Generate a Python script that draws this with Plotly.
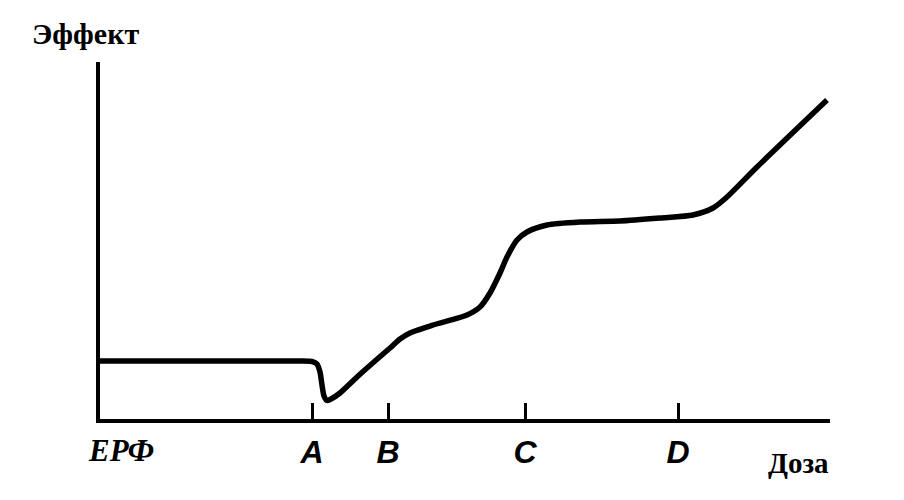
import plotly.graph_objects as go

# Dose (arbitrary units) and effect (arbitrary units)
dose = [0.2, 10.2, 20.2, 21.4, 21.9, 22.2, 22.4, 22.6, 22.9, 23.3, 24.2, 25.9, 27.7,
        29.2, 30.2, 31.2, 33.5, 36.9, 38.2, 39.2, 40.2, 40.9, 41.9, 42.9, 44.9, 48.2,
        52.2, 56.2, 59.5, 61.5, 62.9, 65.9, 72.9]
effect = [6.0, 6.0, 6.0, 5.95, 5.7, 4.9, 3.6, 2.5, 2.05, 2.2, 2.8, 4.4, 6.0,
          7.3, 8.2, 8.8, 9.6, 10.6, 11.4, 12.8, 14.8, 16.4, 18.1, 18.9, 19.6, 19.9,
          20.0, 20.3, 20.6, 21.3, 22.4, 25.4, 32.1]

tick_vals = [21.4, 29.0, 42.7, 58.0]
tick_labels = ["A", "B", "C", "D"]

fig = go.Figure()
fig.add_trace(go.Scatter(
    x=dose, y=effect, mode="lines",
    line=dict(color="black", width=5.5, shape="spline", smoothing=0.7),
    hoverinfo="skip", showlegend=False,
))

fig.update_layout(
    width=904, height=500,
    margin=dict(l=100, r=74, t=62, b=81),
    plot_bgcolor="white", paper_bgcolor="white",
    xaxis=dict(
        range=[0.2, 73.2], showgrid=False, zeroline=False,
        showline=True, linecolor="black", linewidth=4,
        ticks="inside", ticklen=16, tickwidth=3, tickcolor="black",
        tickvals=tick_vals,
        ticktext=["<b><i>%s</i></b>" % t for t in tick_labels],
        tickfont=dict(family="Liberation Sans", size=32, color="black"),
        ticklabelstandoff=2,
    ),
    yaxis=dict(
        range=[0.2, 35.9], showgrid=False, zeroline=False,
        showline=True, linecolor="black", linewidth=4,
        ticks="", showticklabels=False,
    ),
    annotations=[
        dict(x=-0.0205, y=1.081, xref="paper", yref="paper", text="<b>Эффект</b>",
             xanchor="center", yanchor="middle",
             showarrow=False, font=dict(family="Liberation Serif", size=30, color="black")),
        dict(x=0.9575, y=-0.123, xref="paper", yref="paper", text="<b>Доза</b>",
             xanchor="center", yanchor="middle",
             showarrow=False, font=dict(family="Liberation Serif", size=29, color="black")),
        dict(x=0.0288, y=-0.0896, xref="paper", yref="paper", text="<b><i>ЕРФ</i></b>",
             xanchor="center", yanchor="middle",
             showarrow=False, font=dict(family="Liberation Serif", size=31, color="black")),
    ],
)

fig.write_html("out.html", config={"displayModeBar": False},
               post_script="document.body.style.margin='0';")
